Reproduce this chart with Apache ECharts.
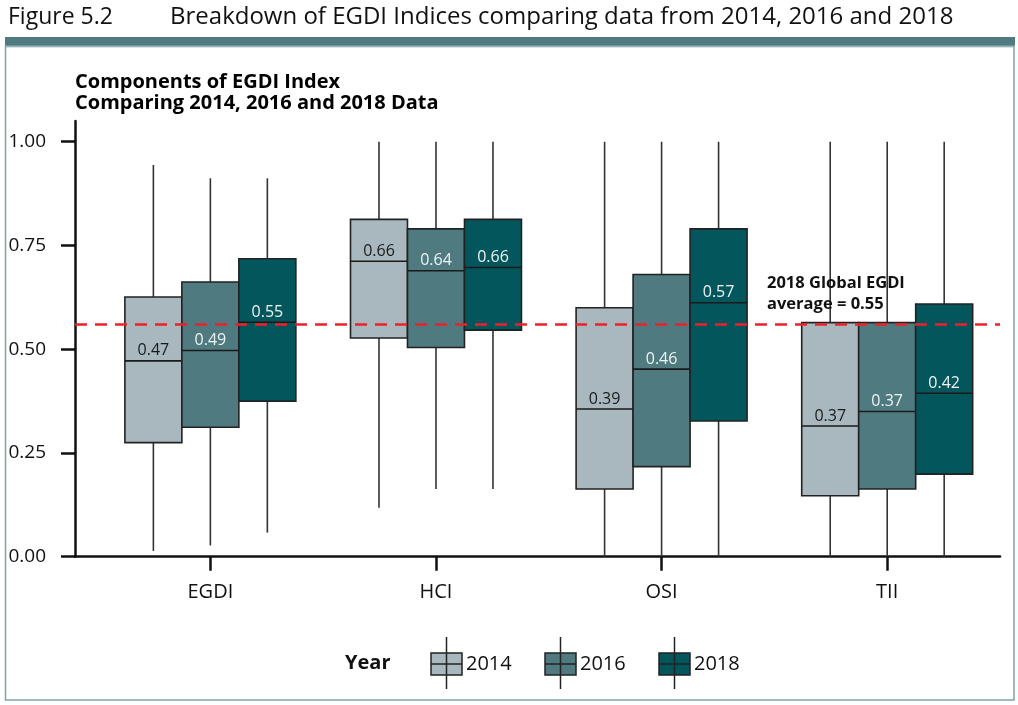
<!DOCTYPE html>
<html>
<head>
<meta charset="utf-8">
<script src="https://cdn.jsdelivr.net/npm/echarts@6/dist/echarts.min.js"></script>
<style>
html,body{margin:0;padding:0;background:#fff;}
#chart{width:1018px;height:705px;}
</style>
</head>
<body>
<div id="chart"></div>
<script>
// ---- data ----
var categories = ['EGDI', 'HCI', 'OSI', 'TII'];
var years = ['2014', '2016', '2018'];
var yTicks = [0, 0.25, 0.5, 0.75, 1.0];
// [min, Q1, median, Q3, max] per category
var box2014 = [
  [0.014, 0.275, 0.472, 0.626, 0.944],
  [0.118, 0.527, 0.712, 0.813, 1.0],
  [0.0, 0.163, 0.356, 0.600, 1.0],
  [0.0, 0.147, 0.315, 0.564, 1.0]
];
var box2016 = [
  [0.027, 0.312, 0.497, 0.662, 0.912],
  [0.163, 0.504, 0.689, 0.790, 1.0],
  [0.0, 0.217, 0.452, 0.680, 1.0],
  [0.0, 0.163, 0.350, 0.564, 1.0]
];
var box2018 = [
  [0.058, 0.375, 0.565, 0.718, 0.912],
  [0.163, 0.546, 0.697, 0.813, 1.0],
  [0.0, 0.327, 0.612, 0.790, 1.0],
  [0.0, 0.199, 0.394, 0.609, 1.0]
];
var labels2014 = ['0.47', '0.66', '0.39', '0.37'];
var labels2016 = ['0.49', '0.64', '0.46', '0.37'];
var labels2018 = ['0.55', '0.66', '0.57', '0.42'];
var globalAvg = 0.5625;
var globalAvgText = '2018 Global EGDI\naverage = 0.55';

// ---- styles ----
var fillColors = ['#a8b8be', '#4f7a80', '#03565c'];
var labelColors = ['#1a1a1a', '#eef3f4', '#eef3f4'];
var BOX_W = 0.2526;
var offsets = [-BOX_W, 0, BOX_W];
var FONT = '"Open Sans", "Noto Sans", sans-serif';

var allBoxes = [box2014, box2016, box2018];
var allLabels = [labels2014, labels2016, labels2018];

function makeSeries(yi) {
  var data = allBoxes[yi].map(function (b, ci) {
    return [ci + 1 + offsets[yi], b[0], b[1], b[2], b[3], b[4], allLabels[yi][ci]];
  });
  var s = {
    type: 'custom',
    name: years[yi],
    data: data,
    encode: { x: 0, y: [1, 2, 3, 4, 5] },
    z: 2,
    renderItem: function (params, api) {
      var x = api.value(0);
      var pMin = api.coord([x, api.value(1)]);
      var pQ1 = api.coord([x, api.value(2)]);
      var pMed = api.coord([x, api.value(3)]);
      var pQ3 = api.coord([x, api.value(4)]);
      var pMax = api.coord([x, api.value(5)]);
      var w = api.size([BOX_W, 0])[0];
      var cx = pMed[0];
      var lab = data[params.dataIndex][6];
      return {
        type: 'group',
        children: [
          { type: 'line', shape: { x1: cx, y1: pMax[1], x2: cx, y2: pQ3[1] }, style: { stroke: '#333', lineWidth: 1.6 } },
          { type: 'line', shape: { x1: cx, y1: pQ1[1], x2: cx, y2: pMin[1] }, style: { stroke: '#333', lineWidth: 1.6 } },
          { type: 'rect', shape: { x: cx - w / 2, y: pQ3[1], width: w, height: pQ1[1] - pQ3[1] }, style: { fill: fillColors[yi], stroke: '#222', lineWidth: 1.6 } },
          { type: 'line', shape: { x1: cx - w / 2, y1: pMed[1], x2: cx + w / 2, y2: pMed[1] }, style: { stroke: '#1a1a1a', lineWidth: 1.6 } },
          { type: 'text', x: cx, y: pMed[1] - 2, style: { text: lab, fill: labelColors[yi], font: '16px ' + FONT, textAlign: 'center', textVerticalAlign: 'bottom' } }
        ]
      };
    }
  };
  if (yi === 2) {
    s.markLine = {
      silent: true,
      symbol: ['none', 'none'],
      z: 10,
      label: { show: false },
      lineStyle: { color: '#e8232b', width: 2.5, type: [12, 8] },
      data: [{ yAxis: globalAvg }]
    };
  }
  return s;
}

var legendGraphics = [];
years.forEach(function (y, i) {
  var bx = 431 + i * 114;
  legendGraphics.push(
    { type: 'line', shape: { x1: bx + 15.5, y1: 637, x2: bx + 15.5, y2: 689 }, style: { stroke: '#222', lineWidth: 1.5 }, z: 100 },
    { type: 'rect', shape: { x: bx, y: 653, width: 31, height: 22 }, style: { fill: fillColors[i], stroke: '#222', lineWidth: 1.5 }, z: 101 },
    { type: 'line', shape: { x1: bx, y1: 664, x2: bx + 31, y2: 664 }, style: { stroke: '#222', lineWidth: 1.5 }, z: 102 },
    { type: 'line', shape: { x1: bx + 15.5, y1: 653, x2: bx + 15.5, y2: 675 }, style: { stroke: '#222', lineWidth: 1.5 }, z: 102 },
    { type: 'text', x: bx + 35, y: 664, style: { text: y, fill: '#111', font: '20px ' + FONT, textVerticalAlign: 'middle' }, z: 102 }
  );
});

var chart = echarts.init(document.getElementById('chart'), null, { renderer: 'canvas' });
chart.setOption({
  backgroundColor: '#fff',
  animation: false,
  title: {
    text: 'Components of EGDI Index\nComparing 2014, 2016 and 2018 Data',
    left: 70, top: 67,
    textStyle: { fontFamily: FONT, fontWeight: 'bold', fontSize: 20, color: '#000', lineHeight: 21 }
  },
  grid: { left: 75, right: 18, top: 121, bottom: 148.3, containLabel: false },
  xAxis: {
    type: 'value', min: 0.4, max: 4.5,
    splitLine: { show: false },
    axisLine: { show: true, lineStyle: { color: '#111', width: 2.5 } },
    axisTick: { show: true, customValues: [1, 2, 3, 4], length: 14, lineStyle: { color: '#111', width: 2.5 } },
    axisLabel: {
      customValues: [1, 2, 3, 4],
      formatter: function (v) { return categories[Math.round(v) - 1]; },
      fontFamily: FONT, fontSize: 20, color: '#111', margin: 26
    }
  },
  yAxis: {
    type: 'value', min: 0, max: 1.05,
    splitLine: { show: false },
    axisLine: { show: true, lineStyle: { color: '#111', width: 2.5 } },
    axisTick: { show: true, customValues: yTicks, length: 14, lineStyle: { color: '#111', width: 2.5 } },
    axisLabel: {
      customValues: yTicks,
      formatter: function (v) { return v.toFixed(2); },
      fontFamily: FONT, fontSize: 19, color: '#111', margin: 29
    }
  },
  series: [makeSeries(0), makeSeries(1), makeSeries(2)],
  graphic: [
    { type: 'text', x: 8, y: 17, style: { text: 'Figure 5.2', fill: '#111', font: '23px ' + FONT, textVerticalAlign: 'middle' } },
    { type: 'text', x: 170, y: 17, style: { text: 'Breakdown of EGDI Indices comparing data from 2014, 2016 and 2018', fill: '#111', font: '24px ' + FONT, textVerticalAlign: 'middle' } },
    { type: 'rect', shape: { x: 5, y: 37, width: 1010, height: 9 }, style: { fill: '#4f7b80' } },
    { type: 'line', shape: { x1: 6, y1: 47, x2: 1014, y2: 47 }, style: { stroke: '#b6c9cb', lineWidth: 1 } },
    { type: 'rect', shape: { x: 5.5, y: 46, width: 1008.5, height: 654 }, style: { fill: 'none', stroke: '#7fa2a6', lineWidth: 1.5 } },
    { type: 'text', x: 767, y: 294, style: { text: globalAvgText, fill: '#111', font: 'bold 16.5px ' + FONT, textVerticalAlign: 'middle', lineHeight: 21 }, z: 50 },
    { type: 'text', x: 345, y: 663, style: { text: 'Year', fill: '#111', font: 'bold 20px ' + FONT, textVerticalAlign: 'middle' } }
  ].concat(legendGraphics)
});
</script>
</body>
</html>
